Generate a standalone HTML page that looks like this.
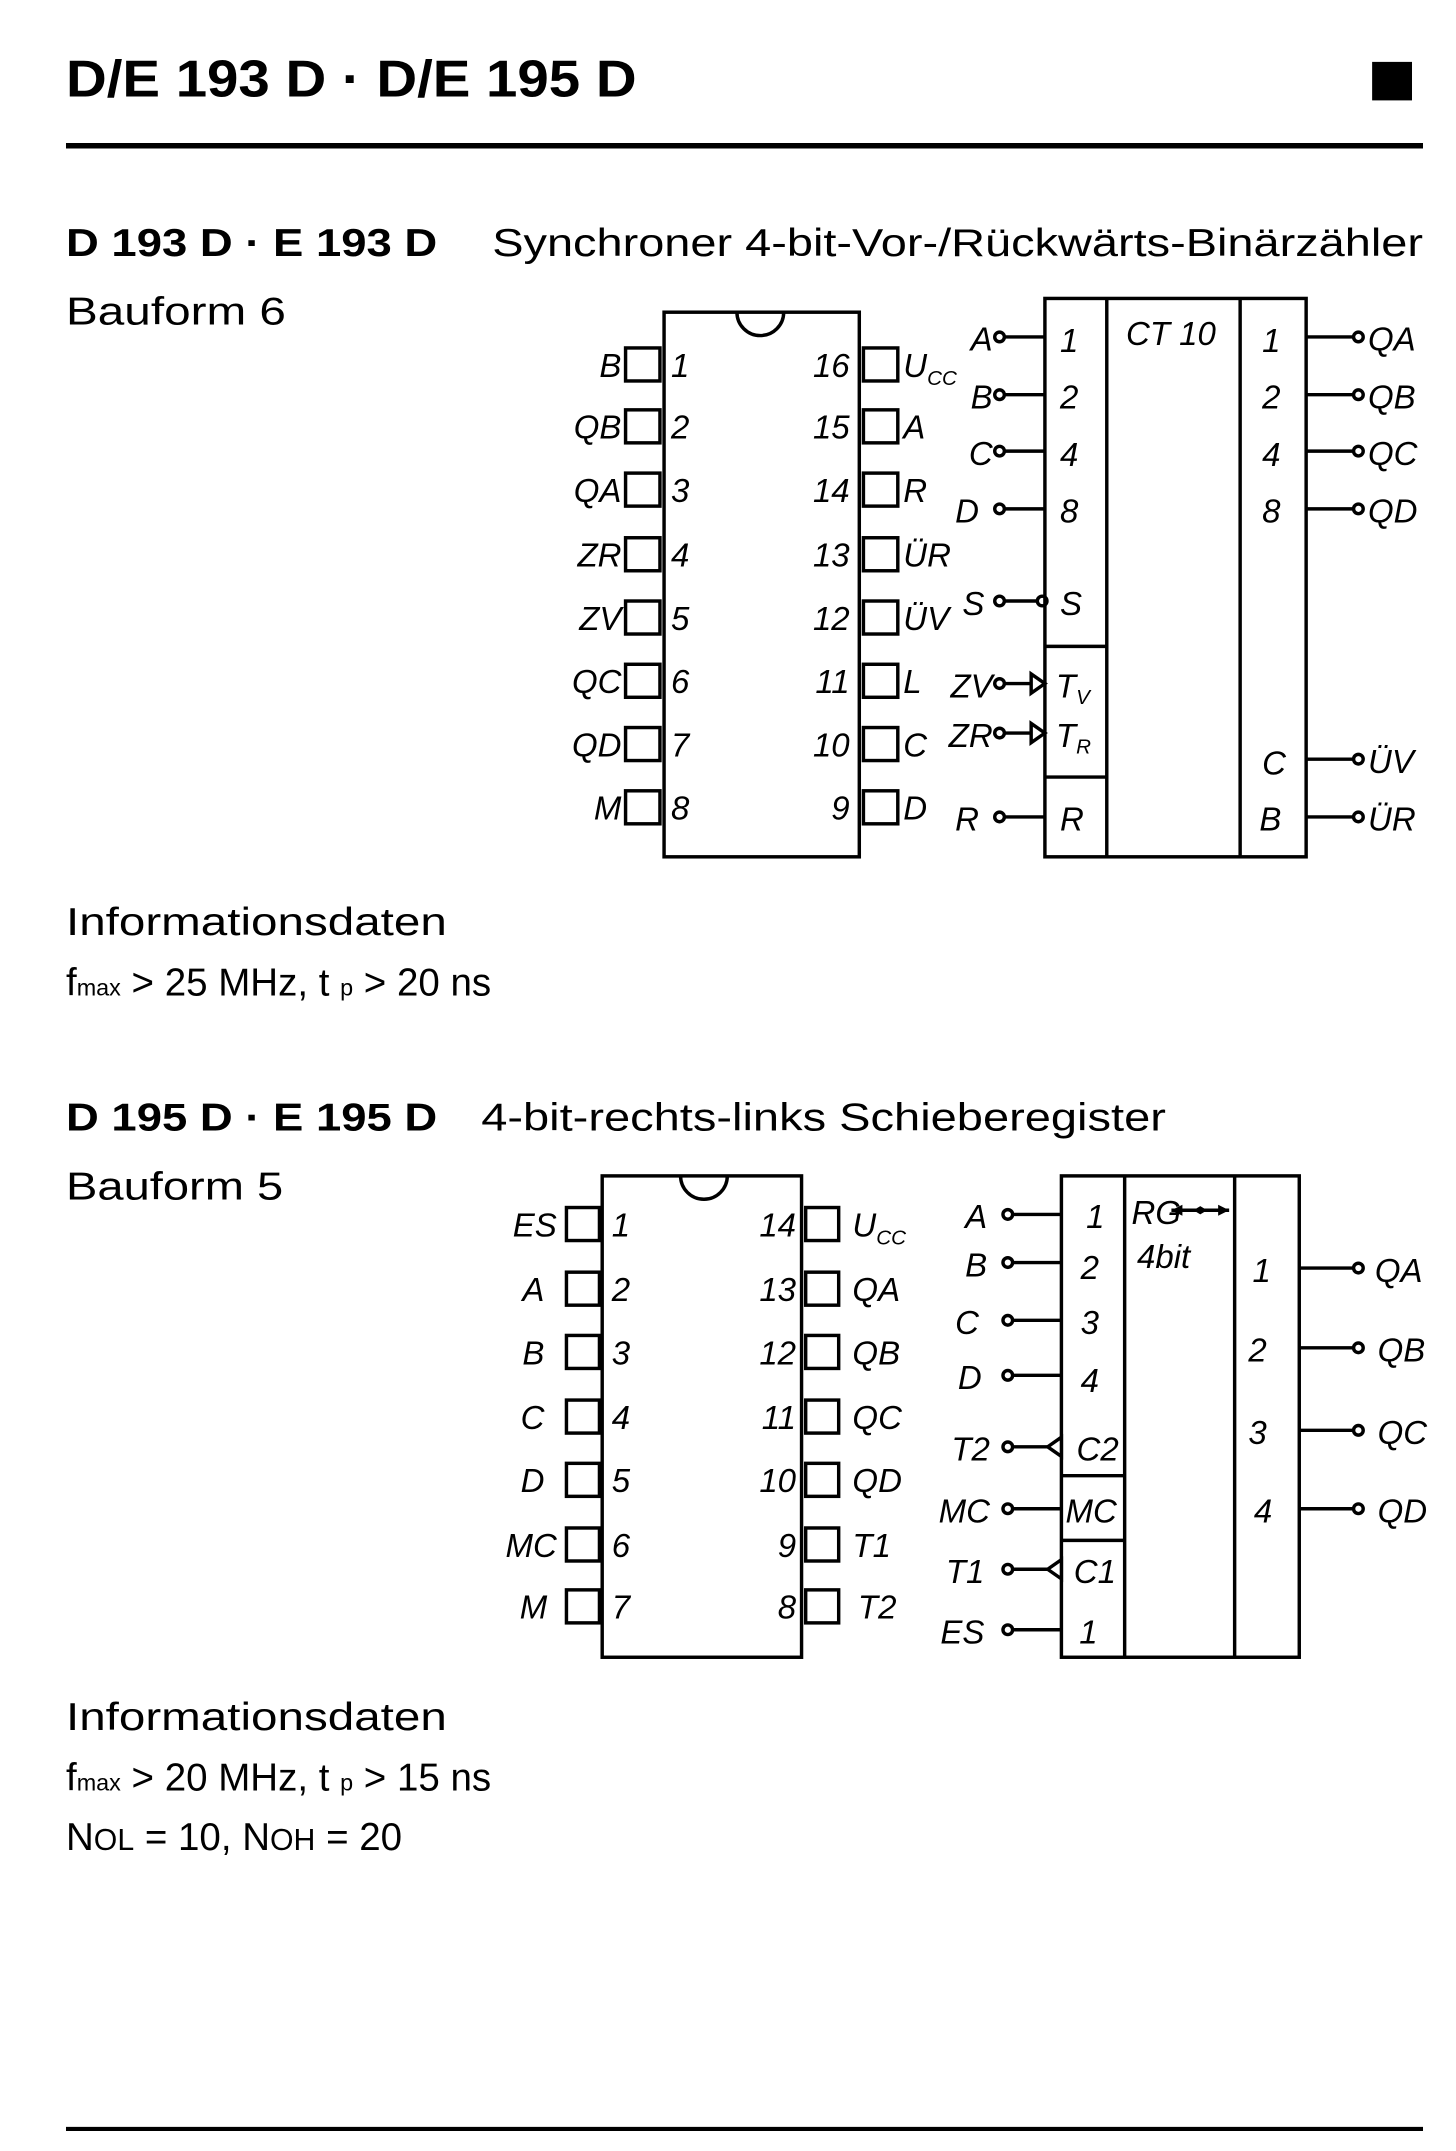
<!DOCTYPE html>
<html><head><meta charset="utf-8"><style>
html,body{margin:0;padding:0;background:#fff}
svg{display:block}
text{font-family:"Liberation Sans",sans-serif;fill:#000}
.t{font-size:28px}
.b{font-weight:bold}
.i{font-style:italic;font-size:24px}
</style></head><body>
<svg width="1456" height="2151" viewBox="0 0 1059 1564" preserveAspectRatio="none" xmlns="http://www.w3.org/2000/svg">
<g stroke="#000" fill="none" stroke-width="3">
<line x1="48" y1="106" x2="1035" y2="106" stroke-width="4"/>
<line x1="48" y1="1548" x2="1035" y2="1548" stroke-width="3"/>
</g>
<rect x="998" y="45" width="29" height="28" fill="#000"/>
<text x="48" y="70" class="b" font-size="38" textLength="415" lengthAdjust="spacingAndGlyphs">D/E 193 D · D/E 195 D</text>

<text x="48" y="186" class="b t" textLength="270" lengthAdjust="spacingAndGlyphs">D 193 D · E 193 D</text>
<text x="358" y="186" class="t" textLength="677" lengthAdjust="spacingAndGlyphs">Synchroner 4-bit-Vor-/Rückwärts-Binärzähler</text>
<text x="48" y="236" class="t" textLength="160" lengthAdjust="spacingAndGlyphs">Bauform 6</text>

<!-- DIP 1 -->
<g stroke="#000" stroke-width="2.5" fill="none">
<rect x="483" y="227" width="142" height="396"/>
<path d="M536 227 A17 17 0 0 0 570 227"/>
<rect x="455" y="253" width="25" height="24"/><rect x="455" y="298" width="25" height="24"/>
<rect x="455" y="344" width="25" height="24"/><rect x="455" y="391" width="25" height="24"/>
<rect x="455" y="437" width="25" height="24"/><rect x="455" y="483" width="25" height="24"/>
<rect x="455" y="529" width="25" height="24"/><rect x="455" y="575" width="25" height="24"/>
<rect x="628" y="253" width="25" height="24"/><rect x="628" y="298" width="25" height="24"/>
<rect x="628" y="344" width="25" height="24"/><rect x="628" y="391" width="25" height="24"/>
<rect x="628" y="437" width="25" height="24"/><rect x="628" y="483" width="25" height="24"/>
<rect x="628" y="529" width="25" height="24"/><rect x="628" y="575" width="25" height="24"/>
</g>
<g text-anchor="end">
<text x="452" y="274" class="i">B</text><text x="452" y="319" class="i">QB</text><text x="452" y="365" class="i">QA</text><text x="452" y="412" class="i">ZR</text>
<text x="452" y="458" class="i">ZV</text><text x="452" y="504" class="i">QC</text><text x="452" y="550" class="i">QD</text><text x="452" y="596" class="i">M</text>
<text x="618" y="274" class="i">16</text><text x="618" y="319" class="i">15</text><text x="618" y="365" class="i">14</text><text x="618" y="412" class="i">13</text>
<text x="618" y="458" class="i">12</text><text x="618" y="504" class="i">11</text><text x="618" y="550" class="i">10</text><text x="618" y="596" class="i">9</text>
</g>
<g>
<text x="488" y="274" class="i">1</text><text x="488" y="319" class="i">2</text><text x="488" y="365" class="i">3</text><text x="488" y="412" class="i">4</text>
<text x="488" y="458" class="i">5</text><text x="488" y="504" class="i">6</text><text x="488" y="550" class="i">7</text><text x="488" y="596" class="i">8</text>
<text x="657" y="274" class="i">U<tspan font-size="15" dy="6">CC</tspan></text><text x="657" y="319" class="i">A</text><text x="657" y="365" class="i">R</text><text x="657" y="412" class="i">ÜR</text>
<text x="657" y="458" class="i">ÜV</text><text x="657" y="504" class="i">L</text><text x="657" y="550" class="i">C</text><text x="657" y="596" class="i">D</text>
</g>

<!-- Logic symbol 1 -->
<g stroke="#000" stroke-width="2.5" fill="none">
<rect x="760" y="217" width="190" height="406"/>
<line x1="805" y1="217" x2="805" y2="623"/><line x1="902" y1="217" x2="902" y2="623"/>
<line x1="760" y1="470" x2="805" y2="470"/><line x1="760" y1="565" x2="805" y2="565"/>
<line x1="731" y1="245" x2="760" y2="245"/><line x1="731" y1="287" x2="760" y2="287"/>
<line x1="731" y1="328" x2="760" y2="328"/><line x1="731" y1="370" x2="760" y2="370"/>
<line x1="731" y1="437" x2="755" y2="437"/><line x1="731" y1="497" x2="750" y2="497"/>
<line x1="731" y1="533" x2="750" y2="533"/><line x1="731" y1="594" x2="760" y2="594"/>
<circle cx="727" cy="245" r="3.5"/><circle cx="727" cy="287" r="3.5"/><circle cx="727" cy="328" r="3.5"/><circle cx="727" cy="370" r="3.5"/>
<circle cx="727" cy="437" r="3.5"/><circle cx="758" cy="437" r="3.5"/><circle cx="727" cy="497" r="3.5"/><circle cx="727" cy="533" r="3.5"/><circle cx="727" cy="594" r="3.5"/>
<path d="M750 490 L760 497 L750 504 Z" fill="#fff"/><path d="M750 526 L760 533 L750 540 Z" fill="#fff"/>
<line x1="950" y1="245" x2="984" y2="245"/><line x1="950" y1="287" x2="984" y2="287"/>
<line x1="950" y1="328" x2="984" y2="328"/><line x1="950" y1="370" x2="984" y2="370"/>
<line x1="950" y1="552" x2="984" y2="552"/><line x1="950" y1="594" x2="984" y2="594"/>
<circle cx="988" cy="245" r="3.5"/><circle cx="988" cy="287" r="3.5"/><circle cx="988" cy="328" r="3.5"/><circle cx="988" cy="370" r="3.5"/>
<circle cx="988" cy="552" r="3.5"/><circle cx="988" cy="594" r="3.5"/>
</g>
<g text-anchor="end">
<text x="722" y="255" class="i">A</text><text x="722" y="297" class="i">B</text><text x="722" y="338" class="i">C</text><text x="712" y="380" class="i">D</text>
<text x="716" y="447" class="i">S</text><text x="722" y="507" class="i">ZV</text><text x="722" y="543" class="i">ZR</text><text x="712" y="604" class="i">R</text>
</g>
<g>
<text x="771" y="256" class="i">1</text><text x="771" y="297" class="i">2</text><text x="771" y="339" class="i">4</text><text x="771" y="380" class="i">8</text>
<text x="771" y="447" class="i">S</text><text x="768" y="507" class="i">T<tspan font-size="15" dy="5">V</tspan></text><text x="768" y="543" class="i">T<tspan font-size="15" dy="5">R</tspan></text><text x="771" y="604" class="i">R</text>
<text x="819" y="251" class="i">CT 10</text>
<text x="918" y="256" class="i">1</text><text x="918" y="297" class="i">2</text><text x="918" y="339" class="i">4</text><text x="918" y="380" class="i">8</text>
<text x="918" y="563" class="i">C</text><text x="916" y="604" class="i">B</text>
<text x="995" y="255" class="i">QA</text><text x="995" y="297" class="i">QB</text><text x="995" y="338" class="i">QC</text><text x="995" y="380" class="i">QD</text>
<text x="995" y="562" class="i">ÜV</text><text x="995" y="604" class="i">ÜR</text>
</g>

<text x="48" y="680" class="t" textLength="277" lengthAdjust="spacingAndGlyphs">Informationsdaten</text>
<text x="48" y="724" class="t">f<tspan font-size="17">max</tspan> &gt; 25 MHz, t <tspan font-size="17">p</tspan> &gt; 20 ns</text>

<text x="48" y="822" class="b t" textLength="270" lengthAdjust="spacingAndGlyphs">D 195 D · E 195 D</text>
<text x="350" y="822" class="t" textLength="498" lengthAdjust="spacingAndGlyphs">4-bit-rechts-links Schieberegister</text>
<text x="48" y="872" class="t" textLength="158" lengthAdjust="spacingAndGlyphs">Bauform 5</text>

<!-- DIP 2 -->
<g stroke="#000" stroke-width="2.5" fill="none">
<rect x="438" y="855" width="145" height="350"/>
<path d="M495 855 A17 17 0 0 0 529 855"/>
<rect x="412" y="878" width="24" height="24"/><rect x="412" y="925" width="24" height="24"/>
<rect x="412" y="971" width="24" height="24"/><rect x="412" y="1018" width="24" height="24"/>
<rect x="412" y="1064" width="24" height="24"/><rect x="412" y="1111" width="24" height="24"/>
<rect x="412" y="1156" width="24" height="24"/>
<rect x="586" y="878" width="24" height="24"/><rect x="586" y="925" width="24" height="24"/>
<rect x="586" y="971" width="24" height="24"/><rect x="586" y="1018" width="24" height="24"/>
<rect x="586" y="1064" width="24" height="24"/><rect x="586" y="1111" width="24" height="24"/>
<rect x="586" y="1156" width="24" height="24"/>
</g>
<g text-anchor="end">
<text x="405" y="899" class="i">ES</text><text x="396" y="946" class="i">A</text><text x="396" y="992" class="i">B</text><text x="396" y="1039" class="i">C</text>
<text x="396" y="1085" class="i">D</text><text x="405" y="1132" class="i">MC</text><text x="398" y="1177" class="i">M</text>
<text x="579" y="899" class="i">14</text><text x="579" y="946" class="i">13</text><text x="579" y="992" class="i">12</text><text x="579" y="1039" class="i">11</text>
<text x="579" y="1085" class="i">10</text><text x="579" y="1132" class="i">9</text><text x="579" y="1177" class="i">8</text>
</g>
<g>
<text x="445" y="899" class="i">1</text><text x="445" y="946" class="i">2</text><text x="445" y="992" class="i">3</text><text x="445" y="1039" class="i">4</text>
<text x="445" y="1085" class="i">5</text><text x="445" y="1132" class="i">6</text><text x="445" y="1177" class="i">7</text>
<text x="620" y="899" class="i">U<tspan font-size="15" dy="6">CC</tspan></text><text x="620" y="946" class="i">QA</text><text x="620" y="992" class="i">QB</text><text x="620" y="1039" class="i">QC</text>
<text x="620" y="1085" class="i">QD</text><text x="620" y="1132" class="i">T1</text><text x="624" y="1177" class="i">T2</text>
</g>

<!-- Logic symbol 2 -->
<g stroke="#000" stroke-width="2.5" fill="none">
<rect x="772" y="855" width="173" height="350"/>
<line x1="818" y1="855" x2="818" y2="1205"/><line x1="898" y1="855" x2="898" y2="1205"/>
<line x1="772" y1="1073" x2="818" y2="1073"/><line x1="772" y1="1120" x2="818" y2="1120"/>
<line x1="737" y1="883" x2="772" y2="883"/><line x1="737" y1="918" x2="772" y2="918"/>
<line x1="737" y1="960" x2="772" y2="960"/><line x1="737" y1="1000" x2="772" y2="1000"/>
<line x1="737" y1="1052" x2="762" y2="1052"/><line x1="737" y1="1097" x2="772" y2="1097"/>
<line x1="737" y1="1141" x2="762" y2="1141"/><line x1="737" y1="1185" x2="772" y2="1185"/>
<circle cx="733" cy="883" r="3.5"/><circle cx="733" cy="918" r="3.5"/><circle cx="733" cy="960" r="3.5"/><circle cx="733" cy="1000" r="3.5"/>
<circle cx="733" cy="1052" r="3.5"/><circle cx="733" cy="1097" r="3.5"/><circle cx="733" cy="1141" r="3.5"/><circle cx="733" cy="1185" r="3.5"/>
<path d="M772 1045 L762 1052 L772 1059 Z" fill="#fff"/><path d="M772 1134 L762 1141 L772 1148 Z" fill="#fff"/>
<line x1="945" y1="922" x2="984" y2="922"/><line x1="945" y1="980" x2="984" y2="980"/>
<line x1="945" y1="1040" x2="984" y2="1040"/><line x1="945" y1="1097" x2="984" y2="1097"/>
<circle cx="988" cy="922" r="3.5"/><circle cx="988" cy="980" r="3.5"/><circle cx="988" cy="1040" r="3.5"/><circle cx="988" cy="1097" r="3.5"/>
<line x1="852" y1="880" x2="894" y2="880"/>
</g>
<path d="M852 880 L860 876 L860 884 Z M894 880 L886 876 L886 884 Z M868 880 L873 877 L878 880 L873 883 Z" fill="#000"/>
<g text-anchor="end">
<text x="718" y="893" class="i">A</text><text x="718" y="928" class="i">B</text><text x="712" y="970" class="i">C</text><text x="714" y="1010" class="i">D</text>
<text x="720" y="1062" class="i">T2</text><text x="720" y="1107" class="i">MC</text><text x="716" y="1151" class="i">T1</text><text x="716" y="1195" class="i">ES</text>
</g>
<g>
<text x="790" y="893" class="i">1</text><text x="786" y="930" class="i">2</text><text x="786" y="970" class="i">3</text><text x="786" y="1012" class="i">4</text>
<text x="783" y="1062" class="i">C2</text><text x="775" y="1107" class="i">MC</text><text x="781" y="1151" class="i">C1</text><text x="785" y="1195" class="i">1</text>
<text x="823" y="890" class="i" font-size="22">RG</text><text x="827" y="922" class="i">4bit</text>
<text x="911" y="932" class="i">1</text><text x="908" y="990" class="i">2</text><text x="908" y="1050" class="i">3</text><text x="912" y="1107" class="i">4</text>
<text x="1000" y="932" class="i">QA</text><text x="1002" y="990" class="i">QB</text><text x="1002" y="1050" class="i">QC</text><text x="1002" y="1107" class="i">QD</text>
</g>

<text x="48" y="1258" class="t" textLength="277" lengthAdjust="spacingAndGlyphs">Informationsdaten</text>
<text x="48" y="1302" class="t">f<tspan font-size="17">max</tspan> &gt; 20 MHz, t <tspan font-size="17">p</tspan> &gt; 15 ns</text>
<text x="48" y="1345" class="t">N<tspan font-size="22">OL</tspan> = 10, N<tspan font-size="22">OH</tspan> = 20</text>
</svg>
</body></html>
